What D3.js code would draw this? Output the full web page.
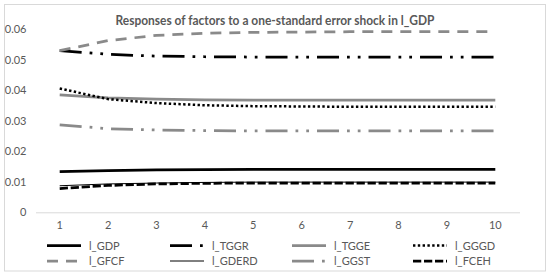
<!DOCTYPE html>
<html>
<head>
<meta charset="utf-8">
<script src="https://cdn.jsdelivr.net/npm/d3@7/dist/d3.min.js"></script>
<style>
  html, body { margin: 0; padding: 0; background: #fff; }
  svg { display: block; }
  text { font-family: Lato, "Open Sans", sans-serif; }
</style>
</head>
<body>
<svg id="chart" width="550" height="274"></svg>
<script>
const periods = [1, 2, 3, 4, 5, 6, 7, 8, 9, 10];
const yTicks = [0, 0.01, 0.02, 0.03, 0.04, 0.05, 0.06];
const titleText = "Responses of factors to a one-standard error shock in l_GDP";

const seriesNames = ["l_GDP", "l_TGGR", "l_TGGE", "l_GGGD", "l_GFCF", "l_GDERD", "l_GGST", "l_FCEH"];
const l_GDP   = [0.0133, 0.0137, 0.0139, 0.0140, 0.0141, 0.0141, 0.0141, 0.0141, 0.0141, 0.0141];
const l_TGGR  = [0.0530, 0.0518, 0.0512, 0.0510, 0.0509, 0.0509, 0.0509, 0.0509, 0.0509, 0.0509];
const l_TGGE  = [0.0385, 0.0375, 0.0371, 0.0369, 0.0368, 0.0368, 0.0368, 0.0368, 0.0368, 0.0368];
const l_GGGD  = [0.0406, 0.0371, 0.0358, 0.0351, 0.0348, 0.0347, 0.0346, 0.0346, 0.0346, 0.0346];
const l_GFCF  = [0.0530, 0.0563, 0.0580, 0.0587, 0.0590, 0.0591, 0.0592, 0.0592, 0.0592, 0.0592];
const l_GDERD = [0.0087, 0.0093, 0.0096, 0.0098, 0.0099, 0.0099, 0.0099, 0.0099, 0.0099, 0.0099];
const l_GGST  = [0.0287, 0.0274, 0.0270, 0.0268, 0.0267, 0.0267, 0.0267, 0.0267, 0.0267, 0.0267];
const l_FCEH  = [0.0078, 0.0088, 0.0093, 0.0095, 0.0096, 0.0096, 0.0096, 0.0096, 0.0096, 0.0096];
const seriesValues = [l_GDP, l_TGGR, l_TGGE, l_GGGD, l_GFCF, l_GDERD, l_GGST, l_FCEH];

const BLACK = "#000000", GRAY = "#8a8a8a", TXT = "#595959";
const styles = {
  l_GDP:   { color: BLACK, width: 2.75, dash: null },
  l_TGGR:  { color: BLACK, width: 2.75, dash: "22,8,2.75,8,2.75,8" },
  l_TGGE:  { color: GRAY,  width: 2.75, dash: null },
  l_GGGD:  { color: BLACK, width: 2.5,  dash: "2.4,2.4" },
  l_GFCF:  { color: GRAY,  width: 2.75, dash: "11,8" },
  l_GDERD: { color: BLACK, width: 1,    dash: null },
  l_GGST:  { color: GRAY,  width: 2.75, dash: "22,8,2.75,8,2.75,8" },
  l_FCEH:  { color: BLACK, width: 2.75, dash: "8.25,2.75" }
};

const svg = d3.select("#chart");

// chart border
svg.append("rect").attr("x", 4.5).attr("y", 4.5).attr("width", 541).attr("height", 266.5)
  .attr("fill", "#fff").attr("stroke", "#d9d9d9").attr("stroke-width", 1);

// title
svg.append("text").attr("x", 275).attr("y", 25).attr("text-anchor", "middle")
  .attr("font-size", 13).attr("font-weight", "bold").attr("fill", TXT)
  .attr("textLength", 319).attr("lengthAdjust", "spacingAndGlyphs")
  .text(titleText);

const x = d3.scaleBand().domain(periods).range([35.5, 519.5]);
const y = d3.scaleLinear().domain([0, 0.06]).range([212.3, 29.3]);

// y axis labels
const yAxis = d3.axisLeft(y).tickValues(yTicks).tickSize(0).tickPadding(0)
  .tickFormat(d => d === 0 ? "0" : d3.format(".2f")(d));
const gy = svg.append("g").attr("transform", "translate(26.5,0)").call(yAxis);
gy.select(".domain").remove();
gy.selectAll("text").attr("fill", TXT).attr("font-size", 11).attr("font-family", "Lato, sans-serif");

// x axis
const xAxis = d3.axisBottom(x).tickSize(0).tickPadding(9);
const gx = svg.append("g").attr("transform", `translate(0,${y(0)})`).call(xAxis);
gx.select(".domain").attr("stroke", "#d9d9d9").attr("stroke-width", 1);
gx.selectAll("text").attr("fill", TXT).attr("font-size", 11).attr("font-family", "Lato, sans-serif");

// lines
const line = d3.line().x((d, i) => x(periods[i]) + x.bandwidth() / 2).y(d => y(d));
const drawOrder = [6, 5, 7, 0, 2, 3, 1, 4];
drawOrder.forEach(k => {
  const name = seriesNames[k];
  const s = styles[name];
  svg.append("path").datum(seriesValues[k])
    .attr("d", line).attr("fill", "none")
    .attr("stroke", s.color).attr("stroke-width", s.width)
    .attr("stroke-dasharray", s.dash)
    .attr("stroke-linejoin", "round");
});

// legend
const colX = [47, 170, 292, 413];
const rowY = [245.5, 261];
seriesNames.forEach((name, i) => {
  const c = i % 4, r = Math.floor(i / 4);
  const s = styles[name];
  const g = svg.append("g");
  g.append("line").attr("x1", colX[c]).attr("x2", colX[c] + 34)
    .attr("y1", rowY[r]).attr("y2", rowY[r])
    .attr("stroke", s.color).attr("stroke-width", s.width)
    .attr("stroke-dasharray", s.dash);
  g.append("text").attr("x", colX[c] + 42).attr("y", rowY[r] + 4)
    .attr("font-size", 11).attr("fill", TXT).text(name);
});
</script>
</body>
</html>
